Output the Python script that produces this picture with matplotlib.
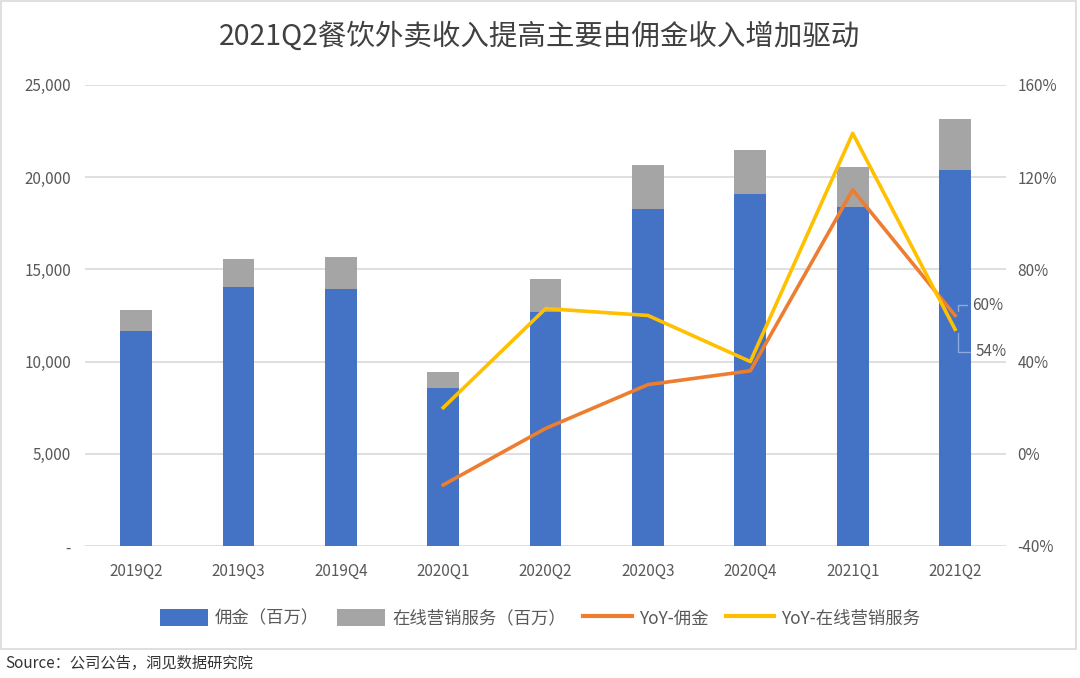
"""Stacked revenue bars with YoY growth lines on a secondary axis."""

import matplotlib

matplotlib.use("Agg")
import matplotlib.pyplot as plt
from matplotlib.lines import Line2D
from matplotlib.patches import Patch, Rectangle
from matplotlib.ticker import FuncFormatter

plt.rcParams["font.family"] = ["Noto Sans CJK SC", "DejaVu Sans"]

quarters = ["2019Q2", "2019Q3", "2019Q4", "2020Q1", "2020Q2",
            "2020Q3", "2020Q4", "2021Q1", "2021Q2"]
commission = [11660, 14050, 13940, 8570, 12690, 18280, 19090, 18380, 20390]
marketing = [1140, 1510, 1730, 870, 1790, 2380, 2390, 2170, 2770]

yoy_quarters = quarters[3:]
yoy_commission = [-13.5, 11, 30, 36, 114.5, 60]
yoy_marketing = [20, 63, 60, 40, 139, 54]

BLUE = "#4472C4"
GRAY = "#A5A5A5"
ORANGE = "#ED7D31"
YELLOW = "#FFC000"
TEXT = "#595959"
GRID = "#D9D9D9"


def main() -> None:
    fig = plt.figure(figsize=(10.8, 6.78), dpi=100)
    ax = fig.add_axes([0.0787, 0.1947, 0.853, 0.680])
    ax2 = ax.twinx()

    x = list(range(len(quarters)))
    ax.bar(x, commission, width=0.31, color=BLUE, zorder=2)
    ax.bar(x, marketing, width=0.31, bottom=commission, color=GRAY, zorder=2)

    ax.set_xlim(-0.5, len(quarters) - 0.5)
    ax.set_ylim(0, 25000)
    ax.set_yticks(range(0, 25001, 5000))
    ax.yaxis.set_major_formatter(
        FuncFormatter(lambda v, _: "-" if v == 0 else f"{int(v):,}")
    )
    ax.set_xticks(x)
    ax.set_xticklabels(quarters)
    ax.grid(axis="y", color=GRID, linewidth=1.2, zorder=0)
    ax.set_axisbelow(True)

    yx = [quarters.index(q) for q in yoy_quarters]
    ax2.plot(yx, yoy_commission, color=ORANGE, linewidth=2.6, zorder=3)
    ax2.plot(yx, yoy_marketing, color=YELLOW, linewidth=2.6, zorder=4)
    ax2.set_ylim(-40, 160)
    ax2.set_yticks(range(-40, 161, 40))
    ax2.yaxis.set_major_formatter(FuncFormatter(lambda v, _: f"{int(v)}%"))

    for a in (ax, ax2):
        for side in a.spines.values():
            side.set_visible(False)
        a.tick_params(length=0, labelsize=11, colors=TEXT)
    ax.tick_params(axis="x", pad=12)
    ax.tick_params(axis="y", pad=10)
    ax2.tick_params(axis="y", pad=8)

    # leader-line labels for the latest YoY points
    last = yx[-1]
    leader = dict(arrowstyle="-", color="#8EA9DB", lw=1, relpos=(0, 0.5),
                  shrinkA=2, shrinkB=3,
                  connectionstyle="angle,angleA=0,angleB=90,rad=0")
    ax2.annotate(f"{yoy_commission[-1]:.0f}%", xy=(last + 0.03, yoy_commission[-1]),
                 xytext=(last + 0.17, 64.5), fontsize=11, color=TEXT,
                 ha="left", va="center", arrowprops=leader)
    ax2.annotate(f"{yoy_marketing[-1]:.0f}%", xy=(last + 0.03, yoy_marketing[-1]),
                 xytext=(last + 0.20, 44.2), fontsize=11, color=TEXT,
                 ha="left", va="center", arrowprops=leader)

    fig.suptitle("2021Q2餐饮外卖收入提高主要由佣金收入增加驱动",
                 x=0.5, y=0.968, fontsize=20.5, color="#404040")

    handles = [
        Patch(facecolor=BLUE, label="佣金（百万）"),
        Patch(facecolor=GRAY, label="在线营销服务（百万）"),
        Line2D([0], [0], color=ORANGE, lw=3, label="YoY-佣金"),
        Line2D([0], [0], color=YELLOW, lw=3, label="YoY-在线营销服务"),
    ]
    fig.legend(handles=handles, loc="center", bbox_to_anchor=(0.5, 0.088),
               ncol=4, frameon=False, fontsize=12.5, labelcolor=TEXT,
               handlelength=2.8, handleheight=1.1, columnspacing=1.0,
               handletextpad=0.4)

    fig.patches.append(Rectangle((0.001, 0.043), 0.995, 0.955,
                                 transform=fig.transFigure, fill=False,
                                 edgecolor=GRID, linewidth=1.2))
    fig.text(0.005, 0.022, "Source：公司公告，洞见数据研究院",
             fontsize=11, color="#333333", va="center")

    fig.savefig("out.png", dpi=100)
    plt.close(fig)


if __name__ == "__main__":
    main()
